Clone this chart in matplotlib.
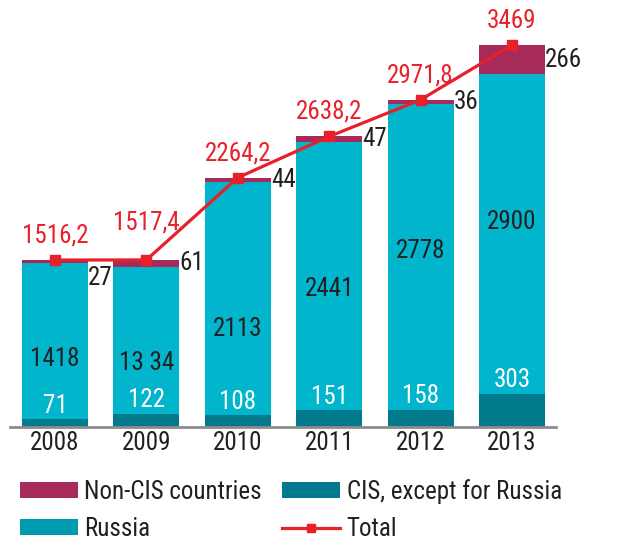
import matplotlib
matplotlib.use("Agg")
import matplotlib.pyplot as plt
from matplotlib.patches import Patch
from matplotlib.lines import Line2D
import numpy as np

years = ["2008", "2009", "2010", "2011", "2012", "2013"]
cis = [71, 122, 108, 151, 158, 303]
russia = [1418, 1334, 2113, 2441, 2778, 2900]
noncis = [27, 61, 44, 47, 36, 266]
total = [1516.2, 1517.4, 2264.2, 2638.2, 2971.8, 3469]
russia_labels = ["1418", "13 34", "2113", "2441", "2778", "2900"]

# label nudges (points)
total_label_dy = [0, 9, 0, 0, 0, 0]
noncis_label_dy = [-12, 0, 0, 0, 0, 0]
russia_label_dy = [-7.5, -10.5, -14, 1, 16, 18.5]

FONT = ["Roboto Condensed", "Archivo Narrow", "DejaVu Sans"]
plt.rcParams["font.family"] = FONT

C_CIS = "#007A8C"
C_RUS = "#00B5CC"
C_NON = "#A62B5A"
C_RED = "#E8202A"
C_TXT = "#231F20"

W, H = 618, 541
fig = plt.figure(figsize=(W / 100, H / 100), dpi=100)
ax_left, ax_right = 10 / W, 556 / W
ax_bottom = (H - 427) / H
ax_top = (H - 20) / H
ax = fig.add_axes([ax_left, ax_bottom, ax_right - ax_left, ax_top - ax_bottom])

x = np.arange(len(years))
spacing = 91.4
bw = 66 / spacing
x0 = -(55 - 10) / spacing
x1 = x0 + (556 - 10) / spacing
ax.set_xlim(x0, x1)
px_per_unit = (427 - 45) / 3469
ax.set_ylim(0, (427 - 20) / px_per_unit)

cis_a = np.array(cis)
rus_a = np.array(russia)
non_a = np.array(noncis)

ax.bar(x, cis_a, bw, color=C_CIS, zorder=2)
ax.bar(x, rus_a, bw, bottom=cis_a, color=C_RUS, zorder=2)
ax.bar(x, non_a, bw, bottom=cis_a + rus_a, color=C_NON, zorder=2)

ax.plot(x, total, color=C_RED, lw=2.3, marker="s", ms=7, zorder=4, clip_on=False)

for s in ["top", "right", "left"]:
    ax.spines[s].set_visible(False)
ax.spines["bottom"].set_color("#8C8C8C")
ax.spines["bottom"].set_linewidth(2)
ax.set_yticks([])
ax.set_xticks(x)
ax.set_xticklabels(years, fontsize=18, color=C_TXT)
ax.tick_params(axis="x", length=0, pad=3)

fs = 18
for i in range(len(years)):
    # CIS labels (white, just above CIS segment)
    ax.annotate(str(cis[i]), (x[i], cis[i]), xytext=(0, 1), textcoords="offset points",
                ha="center", va="bottom", color="white", fontsize=fs, zorder=5)
    # Russia labels
    ax.annotate(russia_labels[i], (x[i], (cis[i] + russia[i] + noncis[i]) * 0.47),
                xytext=(0, russia_label_dy[i]), textcoords="offset points",
                ha="center", va="center", color=C_TXT, fontsize=fs, zorder=5)
    # Non-CIS labels to the right
    yc = cis[i] + russia[i] + noncis[i] / 2
    ax.annotate(str(noncis[i]), (x[i] + bw / 2, yc), xytext=(0, noncis_label_dy[i]),
                textcoords="offset points", ha="left", va="center", color=C_TXT,
                fontsize=fs, zorder=5)
    # Total labels
    lab = f"{total[i]:g}".replace(".", ",")
    ax.annotate(lab, (x[i], total[i]), xytext=(0, 9 + total_label_dy[i]),
                textcoords="offset points", ha="center", va="bottom", color=C_RED,
                fontsize=fs, zorder=5, annotation_clip=False)

handles = [
    Patch(facecolor=C_NON, edgecolor="none"),
    Patch(facecolor="#009AAE", edgecolor="none"),
    Patch(facecolor=C_CIS, edgecolor="none"),
    Line2D([0], [0], color=C_RED, lw=2.3, marker="s", ms=6),
]
labels = ["Non-CIS countries", "Russia", "CIS, except for Russia", "Total"]
fig.legend(handles, labels, ncol=2, loc="upper left", bbox_to_anchor=(20 / W, 1 - 479 / H),
           frameon=False, fontsize=18, handlelength=2.3, handleheight=0.6,
           handletextpad=0.28, columnspacing=0.8, labelspacing=0.52,
           borderpad=0, borderaxespad=0, labelcolor=C_TXT)

fig.savefig("out.png", dpi=100)
